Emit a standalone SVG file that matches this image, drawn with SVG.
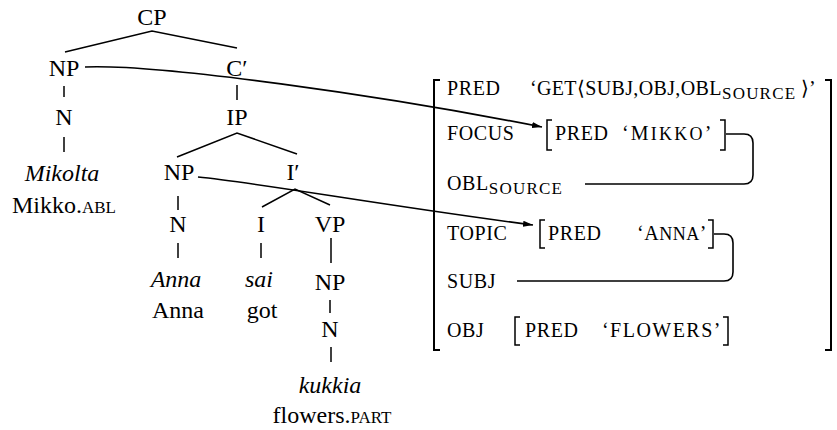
<svg xmlns="http://www.w3.org/2000/svg" width="837" height="430" viewBox="0 0 837 430">
<defs>
<marker id="arr" viewBox="0 0 10 6" refX="10" refY="3" markerWidth="10" markerHeight="6" markerUnits="userSpaceOnUse" orient="auto">
<path d="M0 0 L10 3 L0 6 Z" fill="#000"/>
</marker>
</defs>
<rect width="837" height="430" fill="#fff"/>
<g id="tree-edges" stroke="#000" stroke-width="1.5" fill="none">
<path d="M65 52 L152 31 L237 48"/>
<path d="M64 86 V97"/>
<path d="M64 137 V152"/>
<path d="M237 85 V100"/>
<path d="M177 157 L237 133 L297 154"/>
<path d="M178 196 V210"/>
<path d="M178 243 V258"/>
<path d="M262 207 L295 189 L330 205"/>
<path d="M261 243 V258"/>
<path d="M331 238 V263"/>
<path d="M330 300 V313"/>
<path d="M331 347 V362"/>
</g>
<g id="n-cp"><text font-family="Liberation Serif" font-size="24" text-anchor="middle" x="152" y="25">CP</text></g>
<g id="n-np1"><text font-family="Liberation Serif" font-size="24" text-anchor="middle" x="64" y="76">NP</text></g>
<g id="n-cbar"><text font-family="Liberation Serif" font-size="24" text-anchor="middle" x="237" y="76">C′</text></g>
<g id="n-n1"><text font-family="Liberation Serif" font-size="24" text-anchor="middle" x="64" y="125">N</text></g>
<g id="n-mikolta"><text font-family="Liberation Serif" font-size="24" font-style="italic" text-anchor="middle" x="62" y="181">Mikolta</text><text font-family="Liberation Serif" font-size="24" text-anchor="middle" x="64" y="213">Mikko.<tspan font-size="17">ABL</tspan></text></g>
<g id="n-ip"><text font-family="Liberation Serif" font-size="24" text-anchor="middle" x="237" y="125">IP</text></g>
<g id="n-np2"><text font-family="Liberation Serif" font-size="24" text-anchor="middle" x="179" y="180">NP</text></g>
<g id="n-ibar"><text font-family="Liberation Serif" font-size="24" text-anchor="middle" x="293" y="180">I′</text></g>
<g id="n-n2"><text font-family="Liberation Serif" font-size="24" text-anchor="middle" x="178" y="232">N</text></g>
<g id="n-i"><text font-family="Liberation Serif" font-size="24" text-anchor="middle" x="261" y="232">I</text></g>
<g id="n-vp"><text font-family="Liberation Serif" font-size="24" text-anchor="middle" x="330" y="232">VP</text></g>
<g id="n-anna"><text font-family="Liberation Serif" font-size="24" font-style="italic" text-anchor="middle" x="176" y="287">Anna</text><text font-family="Liberation Serif" font-size="24" text-anchor="middle" x="178" y="318">Anna</text></g>
<g id="n-sai"><text font-family="Liberation Serif" font-size="24" font-style="italic" text-anchor="middle" x="259" y="287">sai</text><text font-family="Liberation Serif" font-size="24" text-anchor="middle" x="262" y="318">got</text></g>
<g id="n-np3"><text font-family="Liberation Serif" font-size="24" text-anchor="middle" x="330" y="290">NP</text></g>
<g id="n-n3"><text font-family="Liberation Serif" font-size="24" text-anchor="middle" x="330" y="337">N</text></g>
<g id="n-kukkia"><text font-family="Liberation Serif" font-size="24" font-style="italic" text-anchor="middle" x="330" y="393">kukkia</text><text font-family="Liberation Serif" font-size="24" text-anchor="middle" x="332" y="423">flowers.<tspan font-size="17">PART</tspan></text></g>
<g id="fstructure">
<path stroke="#000" stroke-width="2" fill="none" d="M440 80 H434 V350 H440"/>
<path stroke="#000" stroke-width="2" fill="none" d="M825 80 H831 V350 H825"/>
<g id="row-pred">
<text font-family="Liberation Serif" font-size="20" letter-spacing="0.6" x="447" y="95">PRED</text>
<text font-family="Liberation Serif" font-size="20" letter-spacing="0.6" x="530" y="95" textLength="192">‘GET⟨SUBJ,OBJ,OBL</text>
<text font-family="Liberation Serif" font-size="17" letter-spacing="1.2" x="722" y="99">SOURCE</text>
<text font-family="Liberation Serif" font-size="20" x="801" y="95">⟩’</text>
</g>
<g id="row-focus">
<text font-family="Liberation Serif" font-size="20" letter-spacing="0.6" x="447" y="140">FOCUS</text>
<path stroke="#000" stroke-width="1.5" fill="none" d="M552 120 H547 V150 H552"/>
<text font-family="Liberation Serif" font-size="20" letter-spacing="0.6" x="555" y="140">PRED</text>
<text font-family="Liberation Serif" font-size="20" letter-spacing="0.6" x="622" y="140" textLength="90">‘M<tspan font-size="18">IKKO</tspan>’</text>
<path stroke="#000" stroke-width="1.5" fill="none" d="M720 120 H725 V150 H720"/>
</g>
<g id="row-obl">
<text font-family="Liberation Serif" font-size="20" letter-spacing="0.6" x="447" y="190">OBL<tspan font-size="17" letter-spacing="1.2" dy="4">SOURCE</tspan></text>
</g>
<g id="row-topic">
<text font-family="Liberation Serif" font-size="20" letter-spacing="0.6" x="447" y="240">TOPIC</text>
<path stroke="#000" stroke-width="1.5" fill="none" d="M545 220 H540 V248 H545"/>
<text font-family="Liberation Serif" font-size="20" letter-spacing="0.6" x="548" y="240">PRED</text>
<text font-family="Liberation Serif" font-size="20" letter-spacing="0.6" x="637" y="240" textLength="70">‘A<tspan font-size="18">NNA</tspan>’</text>
<path stroke="#000" stroke-width="1.5" fill="none" d="M708 220 H713 V248 H708"/>
</g>
<g id="row-subj">
<text font-family="Liberation Serif" font-size="20" letter-spacing="0.6" x="447" y="288">SUBJ</text>
</g>
<g id="row-obj">
<text font-family="Liberation Serif" font-size="20" letter-spacing="0.6" x="447" y="337">OBJ</text>
<path stroke="#000" stroke-width="1.5" fill="none" d="M520 317 H515 V345 H520"/>
<text font-family="Liberation Serif" font-size="20" letter-spacing="0.6" x="525" y="337">PRED</text>
<text font-family="Liberation Serif" font-size="20" letter-spacing="0.6" x="602" y="337" textLength="119">‘FLOWERS’</text>
<path stroke="#000" stroke-width="1.5" fill="none" d="M723 317 H728 V345 H723"/>
</g>
</g>
<g id="connectors" stroke="#000" stroke-width="1.6" fill="none">
<path marker-end="url(#arr)" d="M85 67 C160 64 380 95 542 127"/>
<path marker-end="url(#arr)" d="M198 177 C260 183 380 205 533 225"/>
<path d="M726 134 H744 Q753 134 753 143 V175 Q753 184 744 184 H585"/>
<path d="M714 234 H724 Q733 234 733 243 V272 Q733 281 724 281 H517"/>
</g>
</svg>
